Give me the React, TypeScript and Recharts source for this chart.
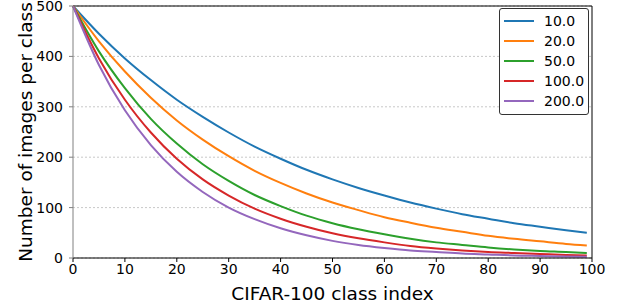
import {
  LineChart,
  Line,
  XAxis,
  YAxis,
  CartesianGrid,
  ReferenceLine
} from 'recharts';

const classIndex = [0, 5, 10, 15, 20, 25, 30, 35, 40, 45, 50, 55, 60, 65, 70, 75, 80, 85, 90, 95, 99];

const imb10 = [500, 445, 396, 353, 314, 280, 249, 221, 197, 175, 156, 139, 124, 110, 98, 87, 78, 69, 62, 55, 50];
const imb20 = [500, 430, 370, 318, 273, 235, 202, 173, 149, 128, 110, 95, 81, 70, 60, 52, 44, 38, 33, 28, 25];
const imb50 = [500, 410, 337, 276, 227, 186, 153, 125, 103, 84, 69, 57, 47, 38, 31, 26, 21, 17, 14, 12, 10];
const imb100 = [500, 396, 314, 249, 197, 156, 124, 98, 78, 62, 49, 39, 31, 24, 19, 15, 12, 10, 8, 6, 5];
const imb200 = [500, 383, 293, 224, 171, 131, 100, 77, 59, 45, 34, 26, 20, 15, 12, 9, 7, 5, 4, 3, 2.5];

const xTicks = [0, 10, 20, 30, 40, 50, 60, 70, 80, 90, 100];
const yTicks = [0, 100, 200, 300, 400, 500];

const series = [
  { key: 'r10', name: '10.0', color: '#1f77b4', values: imb10 },
  { key: 'r20', name: '20.0', color: '#ff7f0e', values: imb20 },
  { key: 'r50', name: '50.0', color: '#2ca02c', values: imb50 },
  { key: 'r100', name: '100.0', color: '#d62728', values: imb100 },
  { key: 'r200', name: '200.0', color: '#9467bd', values: imb200 }
];

const data = classIndex.map((idx, i) => {
  const row: Record<string, number> = { idx };
  series.forEach((s) => {
    row[s.key] = s.values[i];
  });
  return row;
});

const font = 'DejaVu Sans, sans-serif';

const yTitle = ({ viewBox }: any) => {
  const cy = viewBox.y + viewBox.height / 2;
  return (
    <text x={32} y={cy} transform={`rotate(-90, 32, ${cy})`} textAnchor="middle" fill="#000" fontSize={18.5} fontFamily={font}>
      Number of images per class
    </text>
  );
};

const xTitle = ({ viewBox }: any) => {
  const cx = viewBox.x + viewBox.width / 2;
  return (
    <text x={cx} y={300} textAnchor="middle" fill="#000" fontSize={18.5} fontFamily={font}>
      CIFAR-100 class index
    </text>
  );
};

const LegendBox = () => (
  <div
    style={{
      position: 'absolute',
      left: 499,
      top: 8,
      width: 88,
      height: 105,
      border: '1px solid #333',
      borderRadius: 3,
      background: '#fff',
      boxSizing: 'content-box',
      fontFamily: font,
      fontSize: 14
    }}
  >
    {series.map((s, i) => (
      <div
        key={s.key}
        style={{ position: 'absolute', left: 0, top: 2 + i * 20, height: 20, display: 'flex', alignItems: 'center' }}
      >
        <div style={{ width: 30, height: 2, background: s.color, marginLeft: 4, marginRight: 10 }} />
        <span style={{ color: '#000', whiteSpace: 'nowrap' }}>{s.name}</span>
      </div>
    ))}
  </div>
);

export default function App() {
  return (
    <div style={{ position: 'absolute', left: 0, top: 0, width: 618, height: 306, background: '#fff' }}>
      <LineChart width={618} height={306} data={data} margin={{ top: 6, right: 26, left: 23, bottom: 18 }}>
        <CartesianGrid vertical={false} stroke="#c8c8c8" strokeDasharray="2 2" />
        <XAxis
          type="number"
          dataKey="idx"
          domain={[0, 100]}
          ticks={xTicks}
          interval={0}
          height={30}
          stroke="#000"
          tick={{ fill: '#000', fontSize: 14, fontFamily: font }}
          tickSize={4}
          tickMargin={2}
          label={xTitle}
        />
        <YAxis
          type="number"
          domain={[0, 500]}
          ticks={yTicks}
          interval={0}
          width={50}
          stroke="#808080"
          tick={{ fill: '#000', fontSize: 14, fontFamily: font }}
          tickSize={4}
          tickMargin={6}
          label={yTitle}
        />
        <ReferenceLine y={500} stroke="#000" />
        <ReferenceLine x={100} stroke="#000" />
        {series.map((s) => (
          <Line
            key={s.key}
            type="monotone"
            dataKey={s.key}
            name={s.name}
            stroke={s.color}
            strokeWidth={2}
            dot={false}
            isAnimationActive={false}
          />
        ))}
      </LineChart>
      <LegendBox />
    </div>
  );
}
